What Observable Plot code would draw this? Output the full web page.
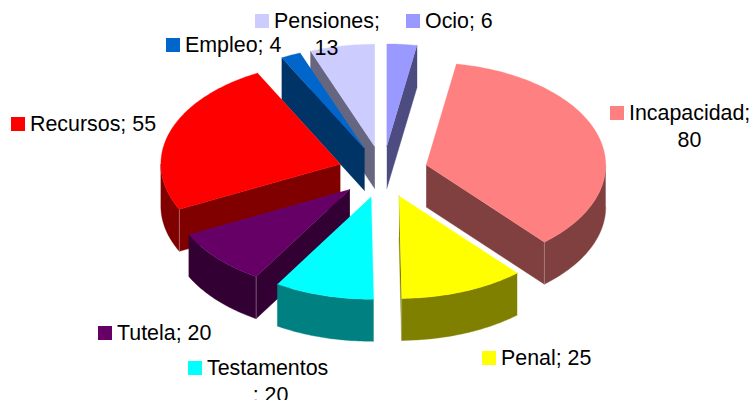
<!DOCTYPE html>
<html>
<head>
<meta charset="utf-8">
<script src="https://cdn.jsdelivr.net/npm/d3@7"></script>
<script src="https://cdn.jsdelivr.net/npm/@observablehq/plot@0.6"></script>
<style>html,body{margin:0;padding:0;background:#fff;overflow:hidden}svg{display:block}</style>
</head>
<body>
<div id="chart"></div>
<script>
// Data
const categories = ["Ocio","Incapacidad","Penal","Testamentos","Tutela","Recursos","Empleo","Pensiones"];
const values     = [6,80,25,20,20,55,4,13];
const topColors  = ["#9999FF","#FF8080","#FFFF00","#00FFFF","#660066","#FF0000","#0066CC","#CCCCFF"];
const sideColors = ["#4C4C80","#804040","#808000","#008080","#330033","#800000","#003366","#666680"];

// Pie layout (unit ellipse in data space)
const W = 752, H = 400, CX = 382.5, CY = 171.5, RX = 179.5, RY = 102.5, DEPTH = 42 / RY, EXPLODE = 0.25;
const X = p => (p - CX) / RX, Y = p => (CY - p) / RY;
const drawOrder = ["Pensiones","Ocio","Empleo","Recursos","Incapacidad","Tutela","Testamentos","Penal"];

const total = d3.sum(values);
let acc = 0;
const slices = categories.map((name, i) => {
  const a0 = acc / total * 2 * Math.PI; acc += values[i];
  const a1 = acc / total * 2 * Math.PI;
  const b = (a0 + a1) / 2;
  return {name, a0, a1, ax: EXPLODE * Math.sin(b), ay: EXPLODE * Math.cos(b), top: topColors[i], side: sideColors[i]};
});
const rimPt = (s, a, dz = 0) => ({x: s.ax + Math.sin(a), y: s.ay + Math.cos(a) - dz});
const apex = (s, dz = 0) => ({x: s.ax, y: s.ay - dz});
function arc(s, a0, a1, dz = 0) {
  const n = Math.max(2, Math.ceil((a1 - a0) / (Math.PI / 180)));
  return d3.range(n + 1).map(k => rimPt(s, a0 + (a1 - a0) * k / n, dz));
}
const poly = (pts, color, sw = 0.4) => Plot.line(pts, {x: "x", y: "y", fill: color, stroke: color, strokeWidth: sw});
const edge = (pts) => Plot.line(pts, {x: "x", y: "y", stroke: "#d8d8d8", strokeWidth: 0.5, strokeOpacity: 0.7});

const pieMarks = [];
for (const name of drawOrder) {
  const s = slices.find(d => d.name === name);
  // radial side walls
  if (Math.sin(s.a0) < -1e-6)
    pieMarks.push(poly([apex(s), rimPt(s, s.a0), rimPt(s, s.a0, DEPTH), apex(s, DEPTH)], s.side));
  if (Math.sin(s.a1) > 1e-6)
    pieMarks.push(poly([apex(s), rimPt(s, s.a1), rimPt(s, s.a1, DEPTH), apex(s, DEPTH)], s.side));
  // outer rim (front half of the ellipse only)
  const r0 = Math.max(s.a0, Math.PI / 2), r1 = Math.min(s.a1, 3 * Math.PI / 2);
  if (r1 > r0)
    pieMarks.push(poly([...arc(s, r0, r1), ...arc(s, r0, r1, DEPTH).reverse()], s.side));
  // corner highlight between wall and rim
  if (r1 > r0 && s.a0 > Math.PI / 2 && s.a0 < 3 * Math.PI / 2 && Math.sin(s.a0) < 0)
    pieMarks.push(edge([rimPt(s, s.a0), rimPt(s, s.a0, DEPTH)]));
  if (r1 > r0 && s.a1 > Math.PI / 2 && s.a1 < Math.PI && Math.sin(s.a1) > 0)
    pieMarks.push(edge([rimPt(s, s.a1), rimPt(s, s.a1, DEPTH)]));
  // top face
  pieMarks.push(poly([apex(s), ...arc(s, s.a0, s.a1)], s.top, 0.3));
}

// Labels (text lines, pixel layout resolved through the scales)
const labelNames  = ["Pensiones","Ocio","Empleo","Recursos","Incapacidad","Penal","Tutela","Testamentos"];
const labelLine1  = ["Pensiones;","Ocio; 6","Empleo; 4","Recursos; 55","Incapacidad;","Penal; 25","Tutela; 20","Testamentos"];
const labelLine2  = ["13","","","","80","","","; 20"];
const swatchLeft  = [255,406,166,11,610,482,98,188];
const swatchTop   = [14,14,38,117,106,351,326,361];
const line2Center = [326,0,0,0,689,0,0,270];
const SWATCH = 14, FONT = 21.4, LEADING = 27;

const swatches = labelNames.map((n, i) => ({
  x1: X(swatchLeft[i]), x2: X(swatchLeft[i] + SWATCH),
  y1: Y(swatchTop[i]), y2: Y(swatchTop[i] + SWATCH),
  fill: topColors[categories.indexOf(n)]
}));
const firstLines = labelLine1.map((t, i) => ({t, x: X(swatchLeft[i] + SWATCH + 4.5), y: Y(swatchTop[i] + SWATCH / 2)}));
const secondLines = labelLine2.map((t, i) => ({t, x: X(line2Center[i]), y: Y(swatchTop[i] + SWATCH / 2 + LEADING)})).filter(d => d.t);

const chart = Plot.plot({
  width: W, height: H,
  margin: 0,
  x: {domain: [X(0), X(W)], range: [0, W], axis: null},
  y: {domain: [Y(H), Y(0)], range: [H, 0], axis: null},
  style: {background: "#fff", fontFamily: "'Liberation Sans', Arial, sans-serif", overflow: "hidden"},
  marks: [
    ...pieMarks,
    ...swatches.map(d => Plot.rect([d], {x1: "x1", x2: "x2", y1: "y1", y2: "y2", fill: d.fill})),
    Plot.text(firstLines, {x: "x", y: "y", text: "t", textAnchor: "start", fontSize: FONT, fill: "#000"}),
    Plot.text(secondLines, {x: "x", y: "y", text: "t", textAnchor: "middle", fontSize: FONT, fill: "#000"})
  ]
});
document.getElementById("chart").appendChild(chart);
</script>
</body>
</html>
